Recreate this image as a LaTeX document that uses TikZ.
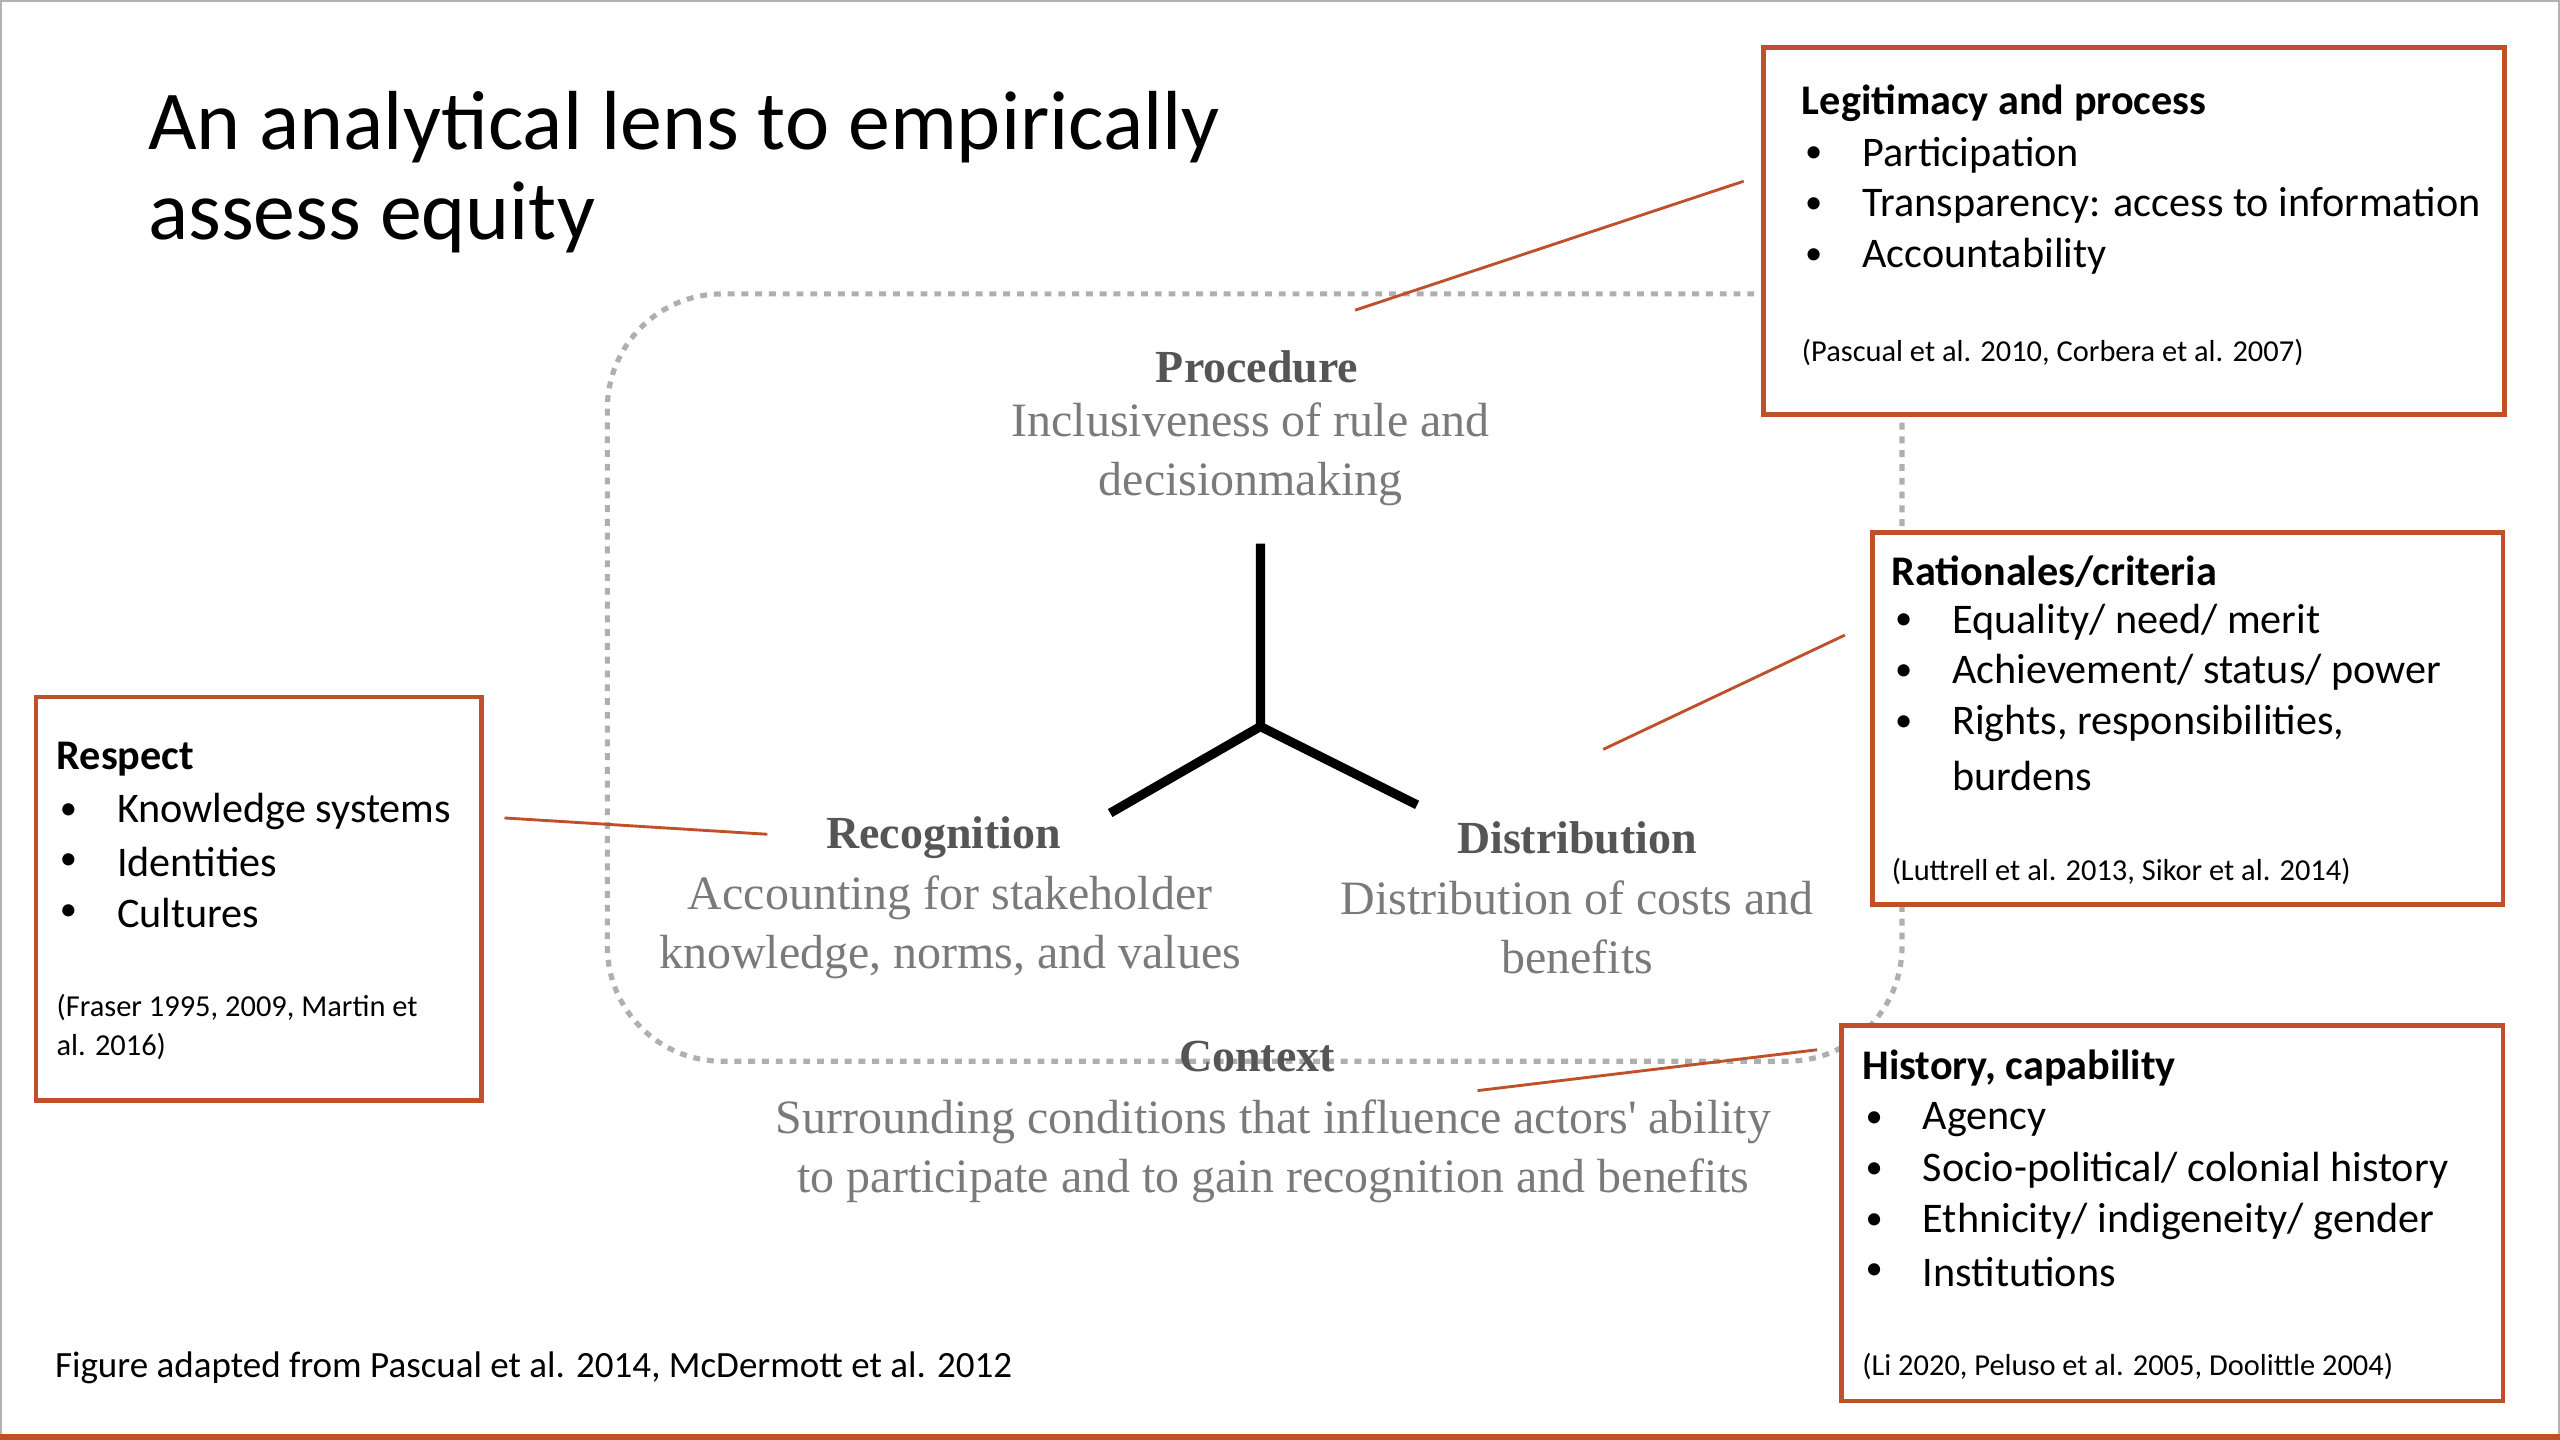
\documentclass[tikz,border=0pt]{standalone}
\usepackage{fontspec}
\setmainfont{Carlito}
\newfontfamily\figserif{Liberation Serif}
\usetikzlibrary{calc}
\definecolor{rust}{HTML}{C0502A}
\definecolor{figgray}{HTML}{7A7A7A}
\tikzset{
  infobox/.style={draw=rust,line width=0.8pt,fill=white},
  boxtext/.style={anchor=west,inner sep=0pt,font=\fontsize{7.35}{8.8}\selectfont},
  boxtitle/.style={boxtext,font=\fontsize{7.35}{8.8}\selectfont\bfseries},
  cite/.style={anchor=west,inner sep=0pt,align=left,font=\fontsize{5.3}{6.8}\selectfont},
  figtitle/.style={inner sep=0pt,font=\figserif\fontsize{8}{9}\selectfont\bfseries,text=figgray!70!black},
  figtext/.style={inner sep=0pt,align=center,font=\figserif\fontsize{8.35}{10.3}\selectfont,text=figgray},
  pointer/.style={draw=rust,line width=0.5pt},
}
\newcommand{\bulletlist}[3]{% x, first y, items
  \foreach \item [count=\i from 0] in {#3}{
    \node[boxtext,font=\fontsize{6}{7}\selectfont] at (#1+2,#2+31*\i) {\textbullet};
    \node[boxtext] at (#1+37,#2+31*\i) {\item};
  }}
\begin{document}
\begin{tikzpicture}[x=0.01cm,y=-0.01cm]
  \useasboundingbox (0,0) rectangle (1568,882);
  \draw[gray!60,line width=0.6pt] (0,0) rectangle (1568,882);
  \draw[rust,line width=1pt] (0,880) -- (1568,880);
  % title
  \node[anchor=north west,inner sep=0pt,align=left,
        font=\fontsize{14.6}{15.7}\selectfont] (title) at (90,55)
    {An analytical lens to empirically\\assess equity};
  % central figure
  \draw[figgray!60,dash pattern=on 1.2pt off 1.2pt,line width=0.9pt,rounded corners=20]
    (372,180) rectangle (1165,650);
  \node[figtitle] (proc) at (770,225) {Procedure};
  \node[figtext] (proctext) at (766,278) {Inclusiveness of rule and\\decisionmaking};
  \node[figtitle] (recog) at (578,513) {Recognition};
  \node[figtext] (recogtext) at (582,568) {Accounting for stakeholder\\knowledge, norms, and values};
  \node[figtitle] (distr) at (966,513) {Distribution};
  \node[figtext] (distrtext) at (966,568) {Distribution of costs and\\benefits};
  \node[figtitle] (context) at (770,647) {Context};
  \node[figtext] (contexttext) at (780,705) {Surrounding conditions that influence actors' ability\\to participate and to gain recognition and benefits};
  \coordinate (hub) at (772,445);
  \coordinate (armup) at (772,333);
  \coordinate (armleft) at (680,498);
  \coordinate (armright) at (868,493);
  \draw[line width=1.6pt] (armup) -- (hub) (armleft) -- (hub) -- (armright);
  % legitimacy box
  \draw[infobox] (1080,29) rectangle (1534,254);
  \node[boxtitle] (legit) at (1103,63) {Legitimacy and process};
  \bulletlist{1103}{95}{Participation,Transparency: access to information,Accountability}
  \node[cite] (legitcite) at (1103,216) {(Pascual et al. 2010, Corbera et al. 2007)};
  % rationales box
  \draw[infobox] (1147,326) rectangle (1533,554);
  \node[boxtitle] (ration) at (1158,350) {Rationales/criteria};
  \bulletlist{1158}{381}{Equality/ need/ merit,Achievement/ status/ power,{Rights, responsibilities,}}
  \node[boxtext] at (1195,475) {burdens};
  \node[cite] (rationcite) at (1158,534) {(Luttrell et al. 2013, Sikor et al. 2014)};
  % respect box
  \draw[infobox] (22,427) rectangle (295,674);
  \node[boxtitle] (respect) at (34,465) {Respect};
  \bulletlist{34}{497}{Knowledge systems,Identities,Cultures}
  \node[cite] (respectcite) at (34,629) {(Fraser 1995, 2009, Martin et\\al. 2016)};
  % history box
  \draw[infobox] (1128,628) rectangle (1533,858);
  \node[boxtitle] (history) at (1140,654) {History, capability};
  \bulletlist{1140}{686}{Agency,Socio-political/ colonial history,Ethnicity/ indigeneity/ gender,Institutions}
  \node[cite] (historycite) at (1140,837) {(Li 2020, Peluso et al. 2005, Doolittle 2004)};
  % pointers
  \coordinate (p1a) at (830,190); \coordinate (p1b) at (1068,111);
  \coordinate (p2a) at (982,459); \coordinate (p2b) at (1130,389);
  \coordinate (p3a) at (309,501); \coordinate (p3b) at (470,511);
  \coordinate (p4a) at (905,668); \coordinate (p4b) at (1113,643);
  \draw[pointer] (p1a) -- (p1b) (p2a) -- (p2b) (p3a) -- (p3b) (p4a) -- (p4b);
  \node[boxtext,font=\fontsize{6.45}{8}\selectfont] (source) at (33,838)
    {Figure adapted from Pascual et al. 2014, McDermott et al. 2012};
\end{tikzpicture}
\end{document}
